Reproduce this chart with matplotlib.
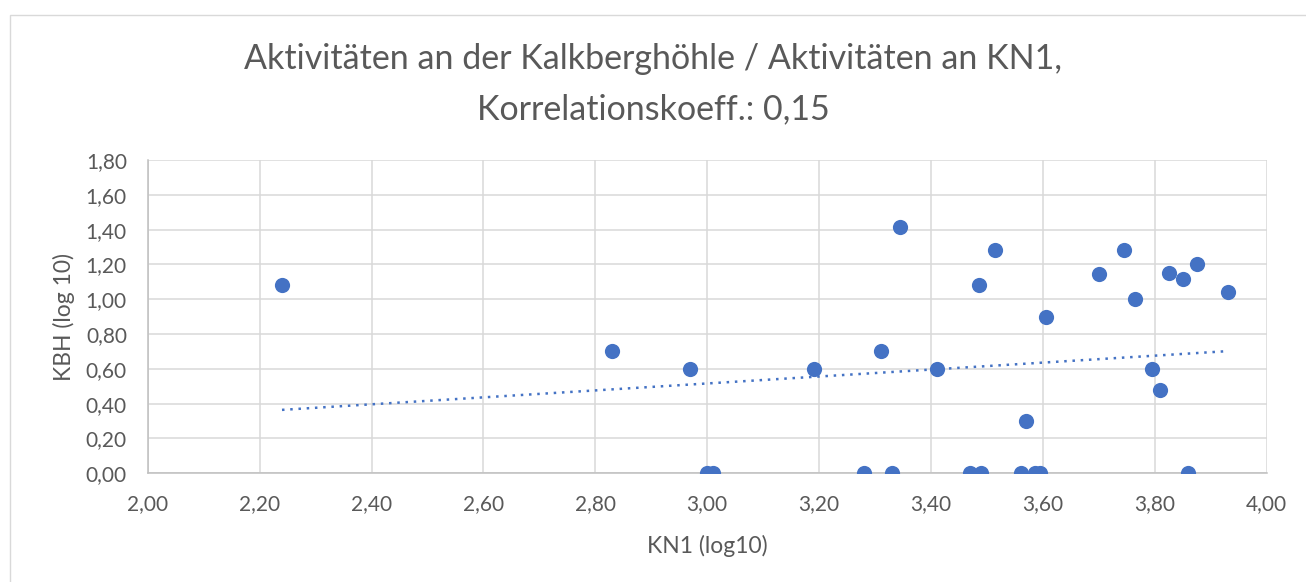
import matplotlib.pyplot as plt
from matplotlib.ticker import FuncFormatter, MultipleLocator
from matplotlib.patches import Rectangle
import numpy as np

# log10-Werte
kn1 = [2.24, 2.83, 2.97, 3.00, 3.01, 3.19, 3.31, 3.28, 3.33, 3.345,
       3.41, 3.47, 3.49, 3.485, 3.515, 3.57, 3.56, 3.585, 3.595, 3.605,
       3.70, 3.745, 3.765, 3.795, 3.81, 3.825, 3.85, 3.875, 3.86, 3.93]
kbh = [1.08, 0.70, 0.60, 0.00, 0.00, 0.60, 0.70, 0.00, 0.00, 1.415,
       0.60, 0.00, 0.00, 1.08, 1.28, 0.30, 0.00, 0.00, 0.00, 0.90,
       1.146, 1.28, 1.00, 0.60, 0.477, 1.15, 1.114, 1.204, 0.00, 1.04]

title = 'Aktivitäten an der Kalkberghöhle / Aktivitäten an KN1,\nKorrelationskoeff.: 0,15'
xlabel = 'KN1 (log10)'
ylabel = 'KBH (log 10)'

blue = '#4472C4'
grey_txt = '#595959'

plt.rcParams['font.family'] = ['Lato', 'DejaVu Sans']

fig = plt.figure(figsize=(13.06, 5.82), dpi=100)
ax = fig.add_axes([0.1131, 0.1868, 0.9699 - 0.1131, 0.7251 - 0.1868])

# Rahmen um das ganze Diagramm
fig.patches.append(Rectangle((10 / 1306, -0.1), 1.2, 1 - 15 / 582 + 0.1,
                             transform=fig.transFigure, fill=False,
                             edgecolor='#d9d9d9', linewidth=1))

ax.scatter(kn1, kbh, s=120, color=blue, zorder=3, linewidths=0)

# lineare Trendlinie
x = np.array(kn1)
k, d = np.polyfit(x, np.array(kbh), 1)
xt = np.array([x.min(), x.max()])
ax.plot(xt, k * xt + d, color=blue, linewidth=1.8,
        linestyle=(0, (1, 2.3)), zorder=2)

ax.set_xlim(2.0, 4.0)
ax.set_ylim(0.0, 1.8)
ax.xaxis.set_major_locator(MultipleLocator(0.2))
ax.yaxis.set_major_locator(MultipleLocator(0.2))
fmt = FuncFormatter(lambda v, p: '{:.2f}'.format(v).replace('.', ','))
ax.xaxis.set_major_formatter(fmt)
ax.yaxis.set_major_formatter(fmt)

ax.grid(True, color='#d9d9d9', linewidth=1.1)
ax.set_axisbelow(True)
for s in ['top', 'right']:
    ax.spines[s].set_visible(False)
for s in ['left', 'bottom']:
    ax.spines[s].set_color('#bfbfbf')
    ax.spines[s].set_linewidth(1.1)
ax.tick_params(length=0, labelsize=15, labelcolor=grey_txt)
ax.tick_params(axis='x', pad=15)
ax.tick_params(axis='y', pad=15)

ax.set_xlabel(xlabel, fontsize=16.5, color=grey_txt, labelpad=15)
ax.set_ylabel(ylabel, fontsize=16.5, color=grey_txt, labelpad=8)
fig.text(0.5, 0.855, title, ha='center', va='center', fontsize=24.5,
         color=grey_txt, linespacing=1.7)

fig.savefig('out.png', dpi=100)
